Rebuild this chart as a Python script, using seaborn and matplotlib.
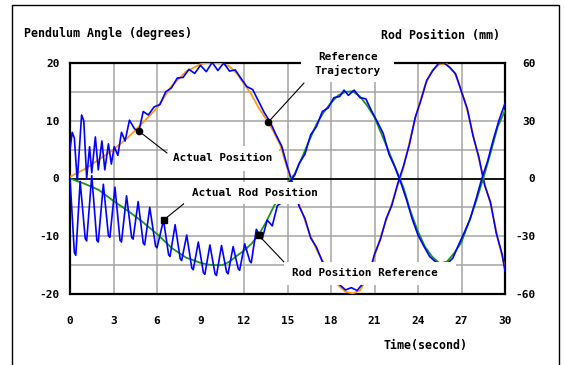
import numpy as np
import matplotlib
matplotlib.use("Agg")
import matplotlib.pyplot as plt
from matplotlib.patches import Rectangle
import seaborn as sns

# ---------------- data ----------------
ref_t = [0, 1, 2, 3, 4, 5, 6, 7, 8, 9,
         9.5, 10, 10.5, 11, 11.5, 12, 12.5, 13, 13.5, 14,
         14.5, 15, 15.5, 16, 16.5, 17, 17.5, 18, 18.5, 19,
         19.5, 20, 20.5, 21, 21.5, 22, 22.5, 23, 23.5, 24,
         24.5, 25, 25.5, 26, 26.5, 27, 27.5, 28, 28.5, 29,
         29.5, 30]
# pendulum reference trajectory (degrees)
pend_ref = [0.3, 1.6, 3.3, 5.0, 7.1, 9.6, 12.2, 16.0, 18.5, 19.8,
            20.0, 20.0, 19.9, 19.4, 18.2, 16.4, 14.6, 12.3, 10.4, 8.3,
            5.8, 1.6, -2.3, -5.8, -9.4, -12.3, -14.6, -16.8, -18.5, -19.6,
            -19.9, -19.4, -17.2, -13.5, -9.5, -5.8, -2.0, 1.8, 7.2, 12.2,
            16.2, 18.8, 19.8, 19.8, 18.4, 15.3, 10.8, 5.5, 0.0, -4.4,
            -10.3, -15.5]
# rod position reference (mm)
rod_ref = [0.0, -2.7, -6.0, -11.7, -16.8, -22.5, -28.8, -36.0, -41.1, -43.8,
           -44.7, -45.0, -45.0, -43.2, -40.2, -37.5, -34.0, -29.4, -23.0, -15.3,
           -8.4, -2.4, 2.4, 10.8, 19.8, 28.2, 34.5, 39.3, 43.2, 45.0,
           45.3, 42.6, 37.8, 31.8, 22.8, 13.8, 4.5, -4.8, -17.4, -27.6,
           -35.7, -40.8, -44.1, -43.2, -38.7, -33.0, -22.8, -12.0, 0.0, 13.2,
           27.0, 35.4]

# actual pendulum angle (degrees)
pend_act_t = [0.0, 0.15, 0.3, 0.5, 0.8, 0.95, 1.15, 1.35, 1.5, 1.75, 1.95, 2.2,
              2.4, 2.65, 2.85, 3.05, 3.3, 3.55, 3.8, 4.1, 4.45, 4.75, 5.05,
              5.4, 5.8, 6.2, 6.6, 7.0, 7.4, 7.8, 8.2, 8.6, 9.0, 9.4, 9.8,
              10.2, 10.6, 11.0, 11.4, 11.8, 12.2, 12.6, 13.0, 13.4, 13.8,
              14.2, 14.6, 15.0, 15.4, 15.8, 16.2, 16.6, 17.0, 17.4, 17.8,
              18.2, 18.6, 19.0, 19.4, 19.8, 20.2, 20.6, 21.0, 21.4, 21.8,
              22.2, 22.6, 23.0, 23.4, 23.8, 24.2, 24.6, 25.0, 25.4, 25.8,
              26.2, 26.6, 27.0, 27.4, 27.8, 28.2, 28.6, 29.0, 29.4, 29.8, 30.0]
pend_act = [5.0, 8.0, 7.0, -0.5, 11.0, 10.0, 0.0, 5.5, 1.0, 7.2, 1.5, 6.5,
            1.5, 6.0, 2.5, 5.5, 4.0, 8.0, 6.5, 10.1, 8.6, 8.2, 11.6,
            11.0, 12.4, 12.8, 15.0, 15.7, 17.4, 17.5, 18.9, 18.2, 19.6, 18.5, 20.1,
            18.7, 20.0, 18.6, 18.8, 17.3, 15.9, 15.4, 13.4, 11.4, 9.8,
            7.6, 5.6, 2.0, -1.2, -4.8, -6.9, -10.3, -11.9, -14.4, -15.6,
            -17.8, -18.4, -19.3, -18.9, -19.4, -18.2, -16.8, -13.1, -10.6, -7.0,
            -4.6, -0.9, 2.2, 5.8, 10.5, 13.5, 17.0, 18.6, 19.9, 20.0,
            19.2, 18.1, 15.0, 12.1, 7.3, 3.7, -1.2, -4.1, -9.5, -13.1, -16.0]

# actual rod position (mm)
rod_act_t = [0.0, 0.3, 0.4, 0.7, 1.05, 1.15, 1.5, 1.85, 1.95, 2.3, 2.65, 2.75,
             3.1, 3.45, 3.55, 3.9, 4.25, 4.35, 4.7, 5.05, 5.15, 5.5, 5.9, 6.0,
             6.45, 6.8, 6.9, 7.25, 7.6, 7.7, 8.05, 8.4, 8.5, 8.85, 9.2, 9.3,
             9.65, 10.0, 10.1, 10.45, 10.8, 10.9, 11.25, 11.6, 11.7, 12.05,
             12.4, 12.5, 12.85, 13.25, 13.6, 13.95, 14.3, 14.65, 15.1, 15.5,
             15.8, 16.2, 16.6, 17.0, 17.4, 17.8, 18.2, 18.6, 18.9, 19.2, 19.6,
             20.0, 20.4, 20.8, 21.2, 21.6, 22.0, 22.4, 22.8, 23.2, 23.6, 24.0,
             24.4, 24.8, 25.2, 25.6, 26.0, 26.4, 26.8, 27.2, 27.6, 28.0, 28.4,
             28.8, 29.2, 29.6, 30.0]
rod_act = [0.0, -38.4, -39.9, -1.5, -31.2, -32.4, 1.5, -32.1, -33.0, -3.0, -29.7, -30.6,
           -4.5, -32.1, -33.0, -9.0, -30.6, -31.5, -12.0, -33.6, -34.5, -15.0, -35.1, -36.0,
           -21.6, -39.6, -40.5, -24.0, -41.7, -42.6, -29.4, -46.5, -47.4, -33.0, -48.9, -49.8,
           -34.5, -49.5, -50.4, -34.8, -48.6, -49.5, -35.4, -46.8, -47.7, -33.9,
           -42.9, -43.8, -26.4, -31.5, -21.6, -24.6, -14.1, -12.3, -2.4, 1.8,
           7.8, 12.6, 22.8, 27.0, 34.8, 36.6, 42.0, 42.6, 45.9, 43.2, 45.9,
           42.0, 41.4, 35.1, 29.4, 23.4, 12.6, 6.0, -1.8, -10.8, -21.0, -29.4,
           -35.1, -40.5, -43.2, -45.0, -44.4, -41.4, -34.5, -27.9, -21.0, -10.8, 0.0,
           9.0, 20.4, 30.6, 39.0]

x_ticks = [0, 3, 6, 9, 12, 15, 18, 21, 24, 27, 30]
x_grid = [3, 6, 12, 15, 18, 21, 24, 27]
left_ticks = [-20, -10, 0, 10, 20]
y_grid = [-15, -10, -5, 5, 10, 15]
right_ticks = [-60, -30, 0, 30, 60]

BLUE = "#0000ff"
ORANGE = "#ff9a10"
GREEN = "#1a961a"
GRID = "#a4a4a4"

# ---------------- figure ----------------
sns.set_theme(style="white")
plt.rcParams["font.family"] = ["DejaVu Sans Mono", "DejaVu Sans"]
plt.rcParams["font.weight"] = "bold"

W, H = 564, 365
fig = plt.figure(figsize=(W / 100, H / 100), dpi=100)
fig.patch.set_facecolor("white")


def fx(px):
    return px / W


def fy(py):
    return 1 - py / H


ax = fig.add_axes([fx(70), fy(294), (505 - 70) / W, (294 - 63) / H])
ax.set_facecolor("white")
ax2 = ax.twinx()
ax2.set_position(ax.get_position())

# pendulum (left axis, degrees)
sns.lineplot(x=ref_t, y=pend_ref, ax=ax, color=ORANGE, linewidth=1.3,
             estimator=None, sort=False, zorder=3)
sns.lineplot(x=pend_act_t, y=pend_act, ax=ax, color=BLUE, linewidth=1.2,
             estimator=None, sort=False, zorder=4)
# rod (right axis, mm)
sns.lineplot(x=ref_t, y=rod_ref, ax=ax2, color=GREEN, linewidth=1.3,
             estimator=None, sort=False, zorder=3)
sns.lineplot(x=rod_act_t, y=rod_act, ax=ax2, color=BLUE, linewidth=1.2,
             estimator=None, sort=False, zorder=4)

ax.set_xlim(0, 30)
ax.set_ylim(-20, 20)
ax2.set_ylim(-60, 60)

ax.xaxis.remove_overlapping_locs = False
ax.yaxis.remove_overlapping_locs = False
ax.set_xticks(x_ticks)
ax.set_xticks(x_grid, minor=True)
ax.set_yticks(left_ticks)
ax.set_yticks(y_grid, minor=True)
ax.set_xticklabels([str(v) for v in x_ticks])
ax.set_yticklabels([str(v) for v in left_ticks])
ax.grid(False)
ax.grid(which="minor", color=GRID, linewidth=1.1)
ax.set_axisbelow(True)
ax.axhline(0, color="black", linewidth=1.3, zorder=2)
ax.tick_params(which="both", length=0)
ax.tick_params(axis="y", pad=7.5, labelsize=8, labelcolor="black")
ax.tick_params(axis="x", pad=16, labelsize=8, labelcolor="black")
ax.set_xlabel("")
ax.set_ylabel("")
for s in ax.spines.values():
    s.set_color("black")
    s.set_linewidth(1.6)
    s.set_visible(True)

ax2.set_yticks(right_ticks)
ax2.set_yticklabels([str(v) for v in right_ticks])
ax2.tick_params(length=0, pad=22, labelsize=8, labelcolor="black")
for t in ax2.yaxis.get_major_ticks():
    t.label2.set_horizontalalignment("right")
ax2.set_ylabel("")
ax2.grid(False)
for s in ax2.spines.values():
    s.set_visible(False)

# outer frame
fig.add_artist(Rectangle((fx(12), fy(380)), (559 - 12) / W, (380 - 5) / H,
                         transform=fig.transFigure, fill=False,
                         edgecolor="black", linewidth=1.0))

# titles
fig.text(fx(24), fy(33), "Pendulum Angle (degrees)", ha="left", va="center",
         fontsize=8.4, color="black")
fig.text(fx(381), fy(36), "Rod Position (mm)", ha="left", va="center",
         fontsize=8.4, color="black")
fig.text(fx(425), fy(345), "Time(second)", ha="center", va="center",
         fontsize=8.4, color="black")

# label boxes (white) and texts
boxes = [
    ((168, 146, 279, 171), "Actual Position", (173, 158), "left"),
    ((301, 44, 394, 82), "Reference\nTrajectory", (348, 64), "center"),
    ((184, 182, 323, 204), "Actual Rod Position", (192, 193), "left"),
    ((284, 262, 456, 285), "Rod Position Reference", (292, 273), "left"),
]
for (x0, y0, x1, y1), txt, (tx, ty), ha in boxes:
    fig.add_artist(Rectangle((fx(x0), fy(y1)), (x1 - x0) / W, (y1 - y0) / H,
                             transform=fig.transFigure, facecolor="white",
                             edgecolor="none", zorder=5))
    fig.text(fx(tx), fy(ty), txt, ha=ha, va="center", fontsize=7.9,
             color="black", linespacing=1.35, multialignment="center", zorder=6)

# annotation lines and dots
p1 = (4.75, float(np.interp(4.75, pend_act_t, pend_act)))
p2 = (13.66, float(np.interp(13.66, ref_t, pend_ref)))
p3 = (6.45, float(np.interp(6.45, rod_act_t, rod_act)))
p4 = (13.0, float(np.interp(13.0, ref_t, rod_ref)))

for axis, pt, end, mk in [(ax, p1, (167, 153), "o"), (ax, p2, (304, 83), "o"),
                          (ax2, p3, (186, 202), "s"), (ax2, p4, (284, 262), "s")]:
    axis.annotate("", xy=pt, xycoords="data", xytext=(fx(end[0]), fy(end[1])),
                  textcoords="figure fraction",
                  arrowprops=dict(arrowstyle="-", color="black", lw=0.8,
                                  shrinkA=0, shrinkB=0), zorder=6)
    axis.plot([pt[0]], [pt[1]], marker=mk, ms=4.5 if mk == "o" else 4.2,
              color="black", zorder=7, linestyle="none")

fig.savefig("out.png", dpi=100, facecolor="white")
